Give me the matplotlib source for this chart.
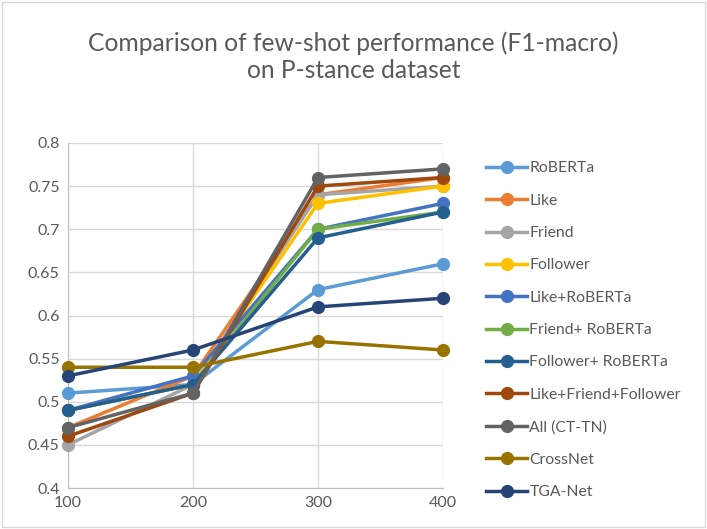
import matplotlib
matplotlib.use("Agg")
import matplotlib.pyplot as plt
from matplotlib.patches import Rectangle

plt.rcParams["font.family"] = ["Lato", "DejaVu Sans"]

# -------- Data
shots = [100, 200, 300, 400]

roberta = [0.51, 0.52, 0.63, 0.66]
like = [0.47, 0.53, 0.74, 0.76]
friend = [0.45, 0.52, 0.74, 0.75]
follower = [0.49, 0.52, 0.73, 0.75]
like_roberta = [0.49, 0.53, 0.70, 0.73]
friend_roberta = [0.49, 0.52, 0.70, 0.72]
follower_roberta = [0.49, 0.52, 0.69, 0.72]
like_friend_follower = [0.46, 0.51, 0.75, 0.76]
all_ctn = [0.47, 0.51, 0.76, 0.77]
crossnet = [0.54, 0.54, 0.57, 0.56]
tga_net = [0.53, 0.56, 0.61, 0.62]

labels = ["RoBERTa", "Like", "Friend", "Follower", "Like+RoBERTa",
          "Friend+ RoBERTa", "Follower+ RoBERTa", "Like+Friend+Follower",
          "All (CT-TN)", "CrossNet", "TGA-Net"]
series = [roberta, like, friend, follower, like_roberta, friend_roberta,
          follower_roberta, like_friend_follower, all_ctn, crossnet, tga_net]
colors = ["#5B9BD5", "#ED7D31", "#A5A5A5", "#FFC000", "#4472C4", "#70AD47",
          "#255E91", "#9E480E", "#636363", "#997300", "#264478"]

fig = plt.figure(figsize=(7.07, 5.29), dpi=100)
ax = fig.add_axes([68 / 707, 1 - 488 / 529, (443 - 68) / 707, (488 - 143) / 529])

for vals, lab, col in zip(series, labels, colors):
    ax.plot(shots, vals, color=col, lw=2.5, marker="o", markersize=8.5,
            label=lab, clip_on=False, zorder=3)

ax.set_xlim(100, 400)
ax.set_ylim(0.4, 0.8)
ax.set_xticks(shots)
ax.set_yticks([0.4, 0.45, 0.5, 0.55, 0.6, 0.65, 0.7, 0.75, 0.8])
ax.set_yticklabels(["0.4", "0.45", "0.5", "0.55", "0.6", "0.65", "0.7", "0.75", "0.8"])
ax.grid(True, color="#D9D9D9", lw=1)
ax.set_axisbelow(True)
for side in ["top", "right"]:
    ax.spines[side].set_visible(False)
for side in ["left", "bottom"]:
    ax.spines[side].set_color("#BFBFBF")
ax.tick_params(length=0, labelsize=11.5, colors="#595959", pad=6)

fig.text(0.5, 1 - 57 / 529, "Comparison of few-shot performance (F1-macro)\non P-stance dataset",
         ha="center", va="center", fontsize=17.7, color="#595959", linespacing=1.2)

leg = ax.legend(loc="upper left", bbox_to_anchor=(480 / 707, 1 - 155 / 529),
                bbox_transform=fig.transFigure, frameon=False, fontsize=11.3,
                labelspacing=1.17, handlelength=2.6, handletextpad=0.15,
                borderaxespad=0)
for t in leg.get_texts():
    t.set_color("#595959")

fig.patches.append(Rectangle((2 / 707, 2 / 529), 703 / 707, 525 / 529,
                             transform=fig.transFigure, fill=False,
                             edgecolor="#D9D9D9", lw=1))

fig.savefig("out.png", dpi=100)
